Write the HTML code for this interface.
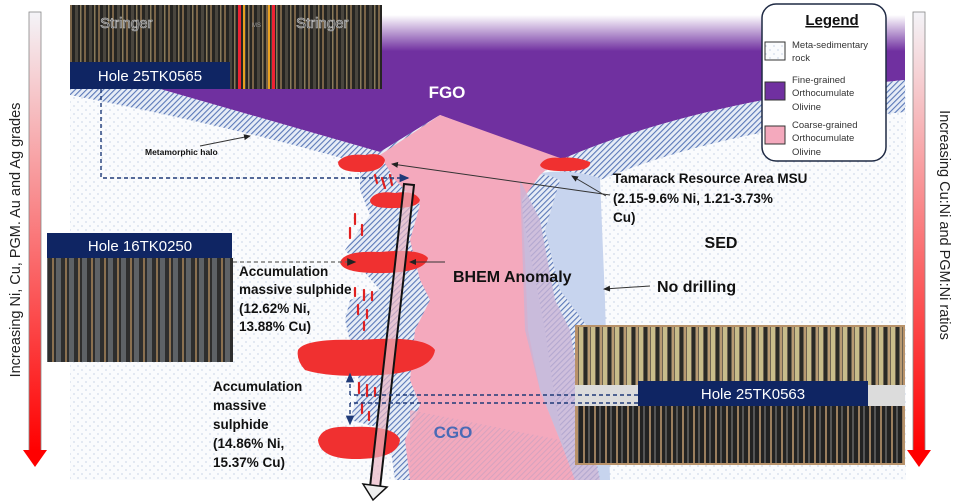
<!DOCTYPE html>
<html><head><meta charset="utf-8"><style>
html,body{margin:0;padding:0;background:#fff;}
svg{display:block;font-family:"Liberation Sans","DejaVu Sans",sans-serif;}
.b{font-weight:bold;fill:#111;}
</style></head><body>
<svg width="960" height="503" viewBox="0 0 960 503" xmlns="http://www.w3.org/2000/svg">
<defs>
<pattern id="dots" width="8" height="8" patternUnits="userSpaceOnUse">
<rect width="8" height="8" fill="#fafbfd"/><circle cx="2" cy="2" r="0.6" fill="#a8b8d6"/><circle cx="6" cy="6" r="0.6" fill="#a8b8d6"/>
</pattern>
<pattern id="hatch" width="4" height="4" patternUnits="userSpaceOnUse" patternTransform="rotate(45)">
<rect width="4" height="4" fill="#e6ecf6"/><rect width="1.1" height="4" fill="#5a78b8"/>
</pattern>
<pattern id="hatchp" width="4" height="4" patternUnits="userSpaceOnUse" patternTransform="rotate(45)">
<rect width="4" height="4" fill="#f3a9bd"/><rect width="1" height="4" fill="#c8a0c0"/>
</pattern>
<pattern id="core" width="14" height="90" patternUnits="userSpaceOnUse">
<rect width="14" height="90" fill="#262522"/><rect x="0" width="2" height="90" fill="#7a6448"/><rect x="5" width="3" height="90" fill="#4a463e"/><rect x="10" width="1.5" height="90" fill="#8a7a5a"/>
</pattern>
<pattern id="core2" width="12" height="80" patternUnits="userSpaceOnUse">
<rect width="12" height="80" fill="#6d6250"/><rect x="0" width="2" height="80" fill="#b89a72"/><rect x="3" width="4" height="80" fill="#c8bc8a"/><rect x="8" width="3" height="80" fill="#2a2a26"/>
</pattern>
<pattern id="core3" width="11" height="80" patternUnits="userSpaceOnUse">
<rect width="11" height="80" fill="#222"/><rect x="0" width="2" height="80" fill="#9a7e5e"/><rect x="5" width="2" height="80" fill="#555"/>
</pattern>
<pattern id="core4" width="13" height="110" patternUnits="userSpaceOnUse">
<rect width="13" height="110" fill="#2e2e2e"/><rect x="0" width="2" height="110" fill="#8a7050"/><rect x="4" width="5" height="110" fill="#5e6266"/>
</pattern>
<linearGradient id="gl" x1="0" y1="0" x2="0" y2="1"><stop offset="0" stop-color="#f4f4f8"/><stop offset="1" stop-color="#f00"/></linearGradient>
<linearGradient id="gp" x1="0" y1="0" x2="0" y2="1"><stop offset="0" stop-color="#fff"/><stop offset="0.25" stop-color="#7030a0"/><stop offset="1" stop-color="#7030a0"/></linearGradient>
<marker id="ah" markerWidth="8" markerHeight="8" refX="6" refY="4" orient="auto"><path d="M0,1 L7,4 L0,7 Z" fill="#1f3a78"/></marker>
<marker id="ak" markerWidth="8" markerHeight="8" refX="6" refY="4" orient="auto"><path d="M0,1 L7,4 L0,7 Z" fill="#222"/></marker>
</defs>

<rect x="70" y="88" width="836" height="392" fill="url(#dots)"/>
<path d="M160 89 L380 152 L440 115 L560 160 Q700 100 905 80 L905 15 L230 15 Z" fill="url(#gp)"/>
<path d="M70 89 L160 89 L380 152 L375 168 Q250 130 70 95 Z" fill="url(#hatch)"/>
<path d="M560 160 Q700 100 905 80 L905 112 Q720 130 600 180 L560 175 Z" fill="url(#hatch)"/>
<path d="M520 178 Q560 165 600 178 L605 300 L610 480 L520 480 Z" fill="#c7d4ee"/>
<path d="M515 175 Q540 170 560 180 L545 230 L560 290 L590 330 L580 380 L600 480 L570 480 L555 400 L545 330 Z" fill="url(#hatch)"/>
<path d="M360 160 L380 152 L440 115 L430 480 L395 480 L388 430 L350 420 L360 385 L345 320 L350 300 L380 290 L345 250 L370 215 L360 190 Z" fill="url(#hatch)"/>
<path d="M380 155 L440 115 L560 158 L540 175 L522 200 L525 260 L528 330 L540 390 L560 440 L575 480 L410 480 L405 440 L420 405 L410 380 L415 330 L430 300 L420 280 L410 240 L420 205 L395 180 Z" fill="#f4a9bd"/>
<path d="M520 180 L525 330 L540 390 L560 440 L575 480 L600 480 L580 390 L570 330 L555 300 L540 220 Z" fill="#c9b4d6" opacity="0.8"/>
<path d="M410 410 L560 440 L575 480 L410 480 Z" fill="url(#hatchp)" opacity="0.7"/>

<g fill="#f03030">
<path d="M338 162 Q345 153 365 155 Q382 152 385 160 Q383 172 360 172 Q338 172 338 162 Z"/>
<path d="M370 200 Q375 190 395 193 Q415 190 420 200 Q418 208 395 208 Q370 209 370 200 Z"/>
<path d="M340 262 Q345 250 380 252 Q420 248 428 258 Q425 272 385 273 Q342 274 340 262 Z"/>
<path d="M298 350 Q305 338 360 340 Q425 335 435 350 Q432 372 380 375 Q330 378 305 370 Q296 360 298 350 Z"/>
<path d="M318 440 Q322 425 350 427 Q395 425 400 440 Q398 458 360 459 Q320 460 318 440 Z"/>
<path d="M540 165 Q545 156 560 158 Q575 156 590 162 Q592 170 570 171 Q542 172 540 165 Z"/>
</g>
<g stroke="#e02020" stroke-width="2.2" stroke-linecap="round">
<line x1="375" y1="175" x2="377" y2="183"/><line x1="382" y1="178" x2="385" y2="188"/><line x1="390" y1="175" x2="392" y2="185"/>
<line x1="355" y1="214" x2="355" y2="224"/><line x1="362" y1="225" x2="362" y2="235"/><line x1="350" y1="228" x2="350" y2="238"/>
<line x1="355" y1="288" x2="355" y2="296"/><line x1="364" y1="290" x2="364" y2="300"/><line x1="372" y1="292" x2="372" y2="300"/><line x1="358" y1="305" x2="358" y2="314"/><line x1="367" y1="310" x2="367" y2="318"/><line x1="364" y1="322" x2="364" y2="330"/>
<line x1="359" y1="383" x2="359" y2="393"/><line x1="367" y1="385" x2="367" y2="396"/><line x1="375" y1="388" x2="375" y2="396"/><line x1="362" y1="403" x2="362" y2="413"/><line x1="369" y1="412" x2="369" y2="420"/>
</g>

<path d="M404 184 L414 185 L380 488 L370 487 Z" fill="#e9b7c4" fill-opacity="0.7" stroke="#111" stroke-width="2"/>
<path d="M363 484 L387 487 L373 500 Z" fill="#eee" stroke="#111" stroke-width="1.5"/>

<rect x="70" y="5" width="312" height="84" fill="url(#core)"/>
<rect x="238" y="5" width="3" height="84" fill="#e23"/><rect x="243" y="5" width="2" height="84" fill="#e8a020"/><rect x="268" y="5" width="2" height="84" fill="#e8a020"/><rect x="272" y="5" width="3" height="84" fill="#e23"/>
<text x="100" y="28" font-size="15" fill="#444" stroke="#ccc" stroke-width="0.6">Stringer</text>
<text x="296" y="28" font-size="15" fill="#444" stroke="#ccc" stroke-width="0.6">Stringer</text>
<text x="252" y="27" font-size="6" fill="#999">MS</text>
<rect x="70" y="62" width="160" height="27" fill="#0f2563"/>
<text x="150" y="81" font-size="15" fill="#fff" text-anchor="middle">Hole 25TK0565</text>

<rect x="47" y="258" width="186" height="104" fill="url(#core4)"/>
<rect x="47" y="233" width="185" height="25" fill="#0f2563"/>
<text x="140" y="251" font-size="15" fill="#fff" text-anchor="middle">Hole 16TK0250</text>

<rect x="575" y="325" width="330" height="140" fill="#b8926a"/>
<rect x="578" y="327" width="325" height="58" fill="url(#core2)"/>
<rect x="578" y="406" width="325" height="57" fill="url(#core3)"/>
<rect x="575" y="385" width="330" height="21" fill="#dcdcdc"/>
<rect x="638" y="381" width="230" height="25" fill="#0f2563"/>
<text x="753" y="399" font-size="15" fill="#fff" text-anchor="middle">Hole 25TK0563</text>

<g fill="none" stroke="#1f3a78" stroke-width="1.4" stroke-dasharray="4,3">
<path d="M101 89 L101 178 L408 178" marker-end="url(#ah)"/>
<path d="M638 395 L350 395"/><path d="M638 403 L350 403"/>
<path d="M350 395 L350 374" marker-end="url(#ah)"/><path d="M350 403 L350 424" marker-end="url(#ah)"/>
</g>
<path d="M233 262 L355 262" fill="none" stroke="#666" stroke-width="1.3" stroke-dasharray="4,3" marker-end="url(#ak)"/>

<g stroke="#333" stroke-width="1" fill="none">
<path d="M200 146 L250 136" marker-end="url(#ak)"/>
<path d="M610 195 L392 164" marker-end="url(#ak)"/>
<path d="M606 196 L572 176" marker-end="url(#ak)"/>
<path d="M445 262 L410 262" marker-end="url(#ak)"/>
<path d="M650 286 L604 289" marker-end="url(#ak)"/>
</g>

<text x="447" y="98" font-size="17" font-weight="bold" fill="#fff" text-anchor="middle">FGO</text>
<text x="145" y="155" font-size="8.5" class="b">Metamorphic halo</text>
<g font-size="13.5" class="b">
<text x="613" y="183">Tamarack Resource Area MSU</text>
<text x="613" y="203">(2.15-9.6% Ni, 1.21-3.73%</text>
<text x="613" y="222">Cu)</text>
</g>
<text x="721" y="248" font-size="16" class="b" text-anchor="middle">SED</text>
<text x="453" y="282" font-size="16" class="b">BHEM Anomaly</text>
<text x="657" y="292" font-size="16" class="b">No drilling</text>
<g font-size="13.5" class="b">
<text x="239" y="276">Accumulation</text>
<text x="239" y="294">massive sulphide</text>
<text x="239" y="313">(12.62% Ni,</text>
<text x="239" y="331">13.88% Cu)</text>
<text x="213" y="391">Accumulation</text>
<text x="213" y="410">massive</text>
<text x="213" y="429">sulphide</text>
<text x="213" y="448">(14.86% Ni,</text>
<text x="213" y="467">15.37% Cu)</text>
</g>
<text x="453" y="438" font-size="17" font-weight="bold" fill="#4a6ab5" text-anchor="middle">CGO</text>

<rect x="762" y="4" width="124" height="157" rx="14" fill="#fff" stroke="#1f2a44" stroke-width="1.5"/>
<text x="832" y="25" font-size="15" class="b" text-anchor="middle" text-decoration="underline">Legend</text>
<rect x="765" y="42" width="20" height="18" fill="url(#dots)" stroke="#333"/>
<rect x="765" y="82" width="20" height="18" fill="#7030a0" stroke="#333"/>
<rect x="765" y="126" width="20" height="18" fill="#f4a9bd" stroke="#333"/>
<g font-size="9.5" fill="#333">
<text x="792" y="48">Meta-sedimentary</text><text x="792" y="61">rock</text>
<text x="792" y="83">Fine-grained</text><text x="792" y="96">Orthocumulate</text><text x="792" y="110">Olivine</text>
<text x="792" y="128">Coarse-grained</text><text x="792" y="141">Orthocumulate</text><text x="792" y="155">Olivine</text>
</g>

<rect x="29" y="12" width="12" height="440" fill="url(#gl)" stroke="#888" stroke-width="0.8"/>
<path d="M23 450 L47 450 L35 467 Z" fill="#f00"/>
<rect x="913" y="12" width="12" height="440" fill="url(#gl)" stroke="#888" stroke-width="0.8"/>
<path d="M907 450 L931 450 L919 467 Z" fill="#f00"/>
<text transform="translate(20,240) rotate(-90)" font-size="14.5" fill="#222" text-anchor="middle">Increasing Ni, Cu, PGM. Au and Ag grades</text>
<text transform="translate(940,225) rotate(90)" font-size="14.5" fill="#222" text-anchor="middle">Increasing Cu:Ni and PGM:Ni ratios</text>
</svg>
</body></html>
